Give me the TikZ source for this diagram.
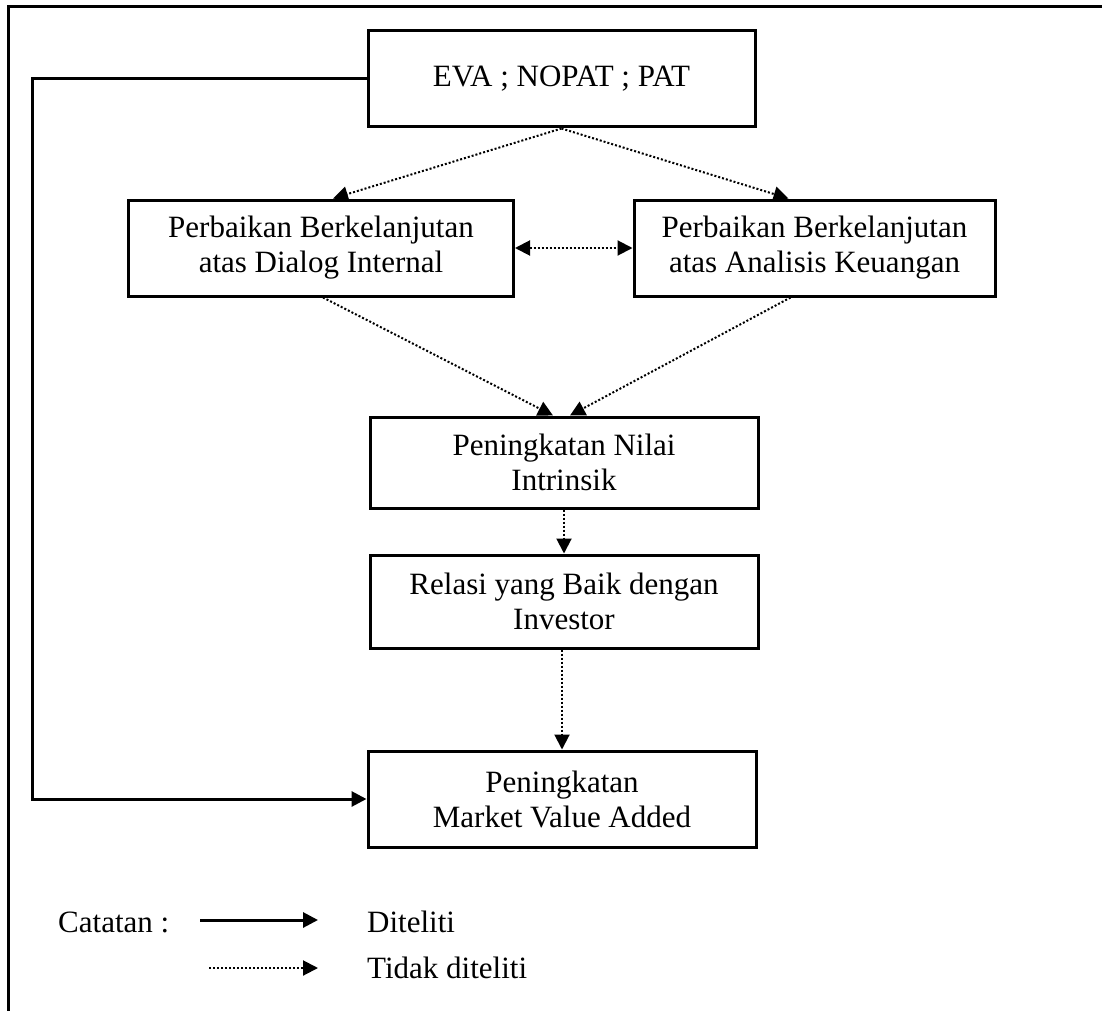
\documentclass[tikz,border=0pt]{standalone}
\usepackage{fontspec}
\setmainfont{Liberation Serif}
\usetikzlibrary{arrows.meta}
\begin{document}
\begin{tikzpicture}[x=1pt,y=-1pt,
  box/.style={draw,line width=3pt,align=center,inner sep=0pt,font=\fontsize{31}{35}\selectfont},
  lbl/.style={inner sep=0pt,anchor=west,font=\fontsize{31}{35}\selectfont},
  solidarr/.style={line width=3pt,-{Triangle[length=15pt,width=15pt]}},
  dotarr/.style={line width=2pt,dotted,-{Triangle[length=15pt,width=15pt]}},
  ]
\useasboundingbox (0,0) rectangle (1102,1011);
% frame
\draw[line width=3pt] (8,1011) -- (8,7) -- (1102,7);
% nodes
\node[box,minimum width=387pt,minimum height=96pt] (eva) at (561.5,79) {EVA ; NOPAT ; PAT};
\node[box,minimum width=385pt,minimum height=96pt] (left) at (321,248) {Perbaikan Berkelanjutan\\atas Dialog Internal};
\node[box,minimum width=361pt,minimum height=96pt] (right) at (814.5,248) {Perbaikan Berkelanjutan\\atas Analisis Keuangan};
\node[box,minimum width=388pt,minimum height=91pt] (intr) at (564,462.5) {Peningkatan Nilai\\Intrinsik};
\node[box,minimum width=388pt,minimum height=93pt] (rel) at (564,601.5) {Relasi yang Baik dengan\\Investor};
\node[box,minimum width=388pt,minimum height=96pt] (mva) at (562,799) {Peningkatan\\Market Value Added};
% connectors
\draw[dotarr] (eva.south) -- ([xshift=12pt]left.north);
\draw[dotarr] (eva.south) -- ([xshift=-26pt]right.north);
\draw[dotarr,{Triangle[length=15pt,width=15pt]}-{Triangle[length=15pt,width=15pt]}] (left.east) -- (right.west);
\draw[dotarr] ([xshift=2pt]left.south) -- ([xshift=-11pt]intr.north);
\draw[dotarr] ([xshift=-24pt]right.south) -- ([xshift=6pt]intr.north);
\draw[dotarr] (intr.south) -- (rel.north);
\draw[dotarr] ([xshift=-2pt]rel.south) -- (mva.north);
\coordinate (c1) at (32,79);
\coordinate (c2) at (32,799);
\draw[solidarr] (eva.west) -- (c1) -- (c2) -- (mva.west);
% legend
\node[lbl] (cat) at (58,922) {Catatan :};
\coordinate (s1) at (200,920);
\coordinate (s2) at (318,920);
\coordinate (d1) at (209,968);
\coordinate (d2) at (318,968);
\draw[solidarr] (s1) -- (s2);
\draw[dotarr] (d1) -- (d2);
\node[lbl] (dit) at (367,922) {Diteliti};
\node[lbl] (tdit) at (367,968) {Tidak diteliti};
\end{tikzpicture}
\end{document}
